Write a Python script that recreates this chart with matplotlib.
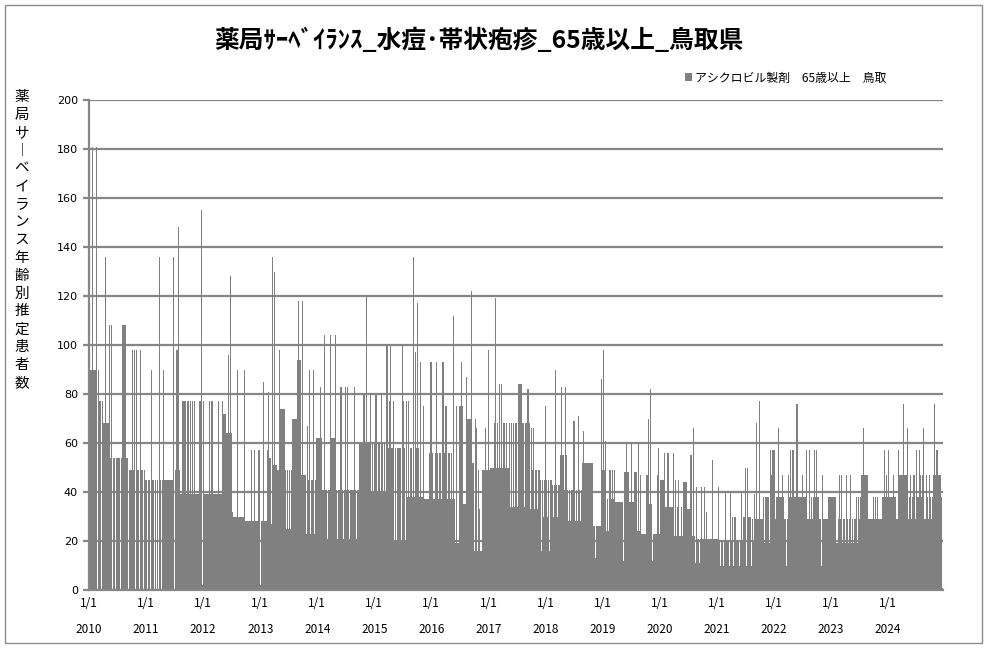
import numpy as np
import matplotlib
matplotlib.use("Agg")
import matplotlib.pyplot as plt
import matplotlib.dates as mdates
from matplotlib.patches import Rectangle

# 週ごとの推定患者数（グラフから読み取った概算値）
y2010 = [90, 90, 90, 181, 90, 90, 181, 0, 90, 77, 77, 0, 77, 68, 68, 136, 68, 68, 108, 54,
         108, 0, 54, 54, 0, 54, 54, 54, 0, 54, 108, 108, 108, 108, 54, 54, 0, 49, 49, 98,
         49, 98, 0, 98, 49, 49, 0, 98, 49, 0, 49, 45]
y2011 = [45, 0, 45, 45, 0, 90, 45, 0, 45, 0, 45, 0, 136, 45, 0, 45, 90, 45, 45, 45,
         45, 45, 45, 45, 45, 136, 0, 49, 98, 148, 49, 39, 39, 77, 77, 77, 77, 39, 77, 39,
         77, 39, 77, 39, 77, 39, 39, 39, 39, 77, 155, 2]
y2012 = [77, 39, 39, 39, 39, 39, 77, 39, 77, 39, 39, 39, 39, 39, 77, 39, 39, 39, 77, 72,
         72, 64, 64, 96, 64, 128, 64, 32, 30, 30, 30, 90, 30, 30, 30, 30, 30, 30, 90, 28,
         28, 28, 28, 28, 57, 28, 28, 57, 28, 28, 28, 57, 2]
y2013 = [28, 28, 85, 28, 28, 28, 57, 81, 54, 27, 136, 51, 130, 51, 51, 49, 49, 98, 74, 74,
         74, 74, 49, 25, 49, 25, 49, 25, 49, 70, 70, 70, 70, 94, 118, 94, 94, 47, 118, 47,
         47, 23, 67, 45, 90, 23, 45, 45, 90, 23, 45, 62]
y2014 = [62, 62, 83, 62, 41, 41, 104, 41, 41, 21, 41, 104, 62, 62, 62, 62, 104, 41, 21, 41,
         41, 83, 41, 21, 41, 83, 41, 83, 41, 21, 41, 41, 41, 83, 41, 21, 41, 41, 60, 60,
         60, 60, 80, 60, 120, 60, 60, 60, 80, 40, 60, 40]
y2015 = [60, 80, 40, 60, 60, 40, 80, 60, 40, 60, 40, 100, 58, 77, 100, 58, 58, 77, 20, 58,
         20, 58, 58, 58, 20, 100, 77, 58, 20, 77, 38, 77, 38, 58, 38, 136, 38, 97, 58, 117,
         58, 38, 93, 38, 75, 37, 37, 37, 37, 37, 56, 93]
y2016 = [93, 56, 37, 56, 93, 56, 37, 56, 56, 37, 93, 93, 56, 75, 37, 56, 56, 37, 56, 37,
         112, 37, 19, 75, 19, 75, 75, 93, 75, 35, 35, 35, 87, 70, 70, 70, 122, 52, 52, 16,
         70, 66, 16, 49, 33, 16, 49, 49, 49, 66, 49, 49]
y2017 = [98, 49, 50, 50, 50, 68, 119, 50, 68, 50, 84, 50, 84, 50, 68, 50, 68, 50, 50, 68,
         34, 68, 34, 68, 34, 68, 34, 84, 84, 84, 84, 68, 68, 34, 68, 68, 82, 68, 33, 66,
         49, 66, 33, 49, 49, 33, 49, 45, 16, 45, 30, 45]
y2018 = [75, 45, 30, 45, 16, 45, 43, 30, 43, 90, 43, 30, 43, 43, 55, 83, 55, 41, 83, 55,
         41, 28, 41, 28, 41, 41, 69, 28, 41, 28, 71, 41, 28, 41, 52, 65, 52, 52, 52, 52,
         52, 52, 52, 52, 26, 26, 13, 26, 26, 26, 26, 86]
y2019 = [49, 98, 49, 61, 24, 37, 24, 49, 37, 49, 37, 49, 36, 36, 36, 36, 36, 36, 36, 12,
         48, 48, 60, 48, 48, 36, 36, 60, 36, 48, 48, 48, 24, 60, 24, 47, 23, 23, 23, 23,
         47, 47, 70, 35, 82, 35, 12, 23, 23, 23, 47, 58]
y2020 = [23, 45, 45, 45, 45, 56, 34, 34, 56, 34, 34, 34, 34, 56, 22, 45, 22, 34, 45, 22,
         34, 22, 44, 44, 44, 44, 33, 33, 33, 55, 22, 66, 22, 11, 42, 21, 21, 11, 21, 42,
         21, 42, 21, 32, 21, 21, 21, 21, 21, 53, 21, 21]
y2021 = [21, 21, 42, 20, 10, 20, 20, 10, 20, 40, 20, 20, 10, 40, 20, 30, 10, 30, 30, 20,
         20, 10, 20, 40, 20, 30, 30, 50, 10, 50, 30, 30, 10, 29, 20, 39, 29, 68, 29, 29,
         77, 29, 29, 38, 19, 38, 38, 38, 38, 19, 57, 47, 57]
y2022 = [57, 29, 38, 38, 66, 38, 38, 38, 47, 38, 29, 10, 29, 47, 38, 57, 38, 57, 57, 38,
         38, 76, 38, 38, 38, 38, 47, 38, 38, 38, 57, 29, 57, 29, 38, 29, 38, 57, 38, 57,
         38, 38, 29, 10, 47, 29, 29, 29, 29, 29, 38, 38]
y2023 = [38, 38, 38, 38, 38, 19, 19, 29, 47, 29, 47, 19, 29, 19, 47, 29, 19, 29, 47, 19,
         29, 19, 29, 38, 19, 38, 29, 38, 47, 47, 66, 47, 47, 47, 29, 29, 29, 29, 29, 38,
         29, 38, 29, 38, 29, 29, 29, 38, 38, 57, 38, 47]
y2024 = [38, 57, 38, 38, 38, 47, 38, 38, 29, 29, 57, 47, 47, 47, 76, 47, 47, 47, 66, 29,
         38, 47, 29, 38, 47, 29, 57, 38, 38, 57, 47, 38, 47, 66, 29, 47, 38, 29, 47, 38,
         29, 38, 47, 76, 47, 57, 47, 47, 47, 38, 1]

years = list(range(2010, 2025))
y_ticks = list(range(0, 201, 20))

TITLE = "薬局ｻｰﾍﾞｲﾗﾝｽ_水痘･帯状疱疹_65歳以上_鳥取県"
SERIES = "アシクロビル製剤　65歳以上　鳥取"
YLABEL = "薬局サ︱ベイランス年齢別推定患者数"

JP = ["Noto Sans CJK JP", "DejaVu Sans"]
BAR = "#808080"
GRID = "#868686"

values = (y2010 + y2011 + y2012 + y2013 + y2014 + y2015 + y2016 + y2017
          + y2018 + y2019 + y2020 + y2021 + y2022 + y2023 + y2024)

start = np.datetime64("2010-01-01")
weeks = start + np.arange(len(values)) * np.timedelta64(7, "D")
x = mdates.date2num(weeks)
x_end = mdates.date2num(start + len(values) * np.timedelta64(7, "D"))

W, H = 987, 648
fig = plt.figure(figsize=(W / 100, H / 100), dpi=100, facecolor="white")
ax = fig.add_axes([89 / W, (H - 590) / H, (943 - 89) / W, (590 - 100) / H])

ax.bar(x, values, width=7, align="edge", color=BAR, linewidth=0,
       antialiased=False, label=SERIES, zorder=2)

ax.set_ylim(0, 200)
ax.set_xlim(x[0], x_end)
ax.set_yticks(y_ticks)
ax.grid(axis="y", color=GRID, linewidth=1.6, zorder=1)
ax.set_axisbelow(True)

for s in ["top", "right"]:
    ax.spines[s].set_visible(False)
for s in ["left", "bottom"]:
    ax.spines[s].set_color(GRID)
    ax.spines[s].set_linewidth(1.6)

ax.tick_params(axis="y", length=4, width=1.6, color=GRID, labelsize=8, pad=4)
jan1 = [mdates.date2num(np.datetime64(f"{y}-01-01")) for y in years]
ax.set_xticks(jan1)
ax.set_xticklabels([f"1/1\n\n{y}" for y in years], family=JP, fontsize=8.5,
                   linespacing=1.0)
ax.tick_params(axis="x", length=0, pad=5)

fig.text(479 / W, (H - 40) / H, TITLE, ha="center", va="center",
         fontsize=17.8, fontweight="bold", family=JP)

fig.text(22 / W, (H - 240) / H, "\n".join(YLABEL), ha="center", va="center",
         fontsize=10.5, family=JP, linespacing=1.35)

fig.legend(loc="center left", bbox_to_anchor=(674 / W, (H - 78) / H),
           frameon=False, prop={"family": JP, "size": 8.6},
           handlelength=0.6, handleheight=0.6, handletextpad=0.3)

fig.add_artist(Rectangle((5 / W, 5 / H), (W - 10) / W, (H - 10) / H,
                         transform=fig.transFigure, fill=False,
                         edgecolor="#8c8c8c", linewidth=1))

fig.savefig("out.png", dpi=100, facecolor="white")
